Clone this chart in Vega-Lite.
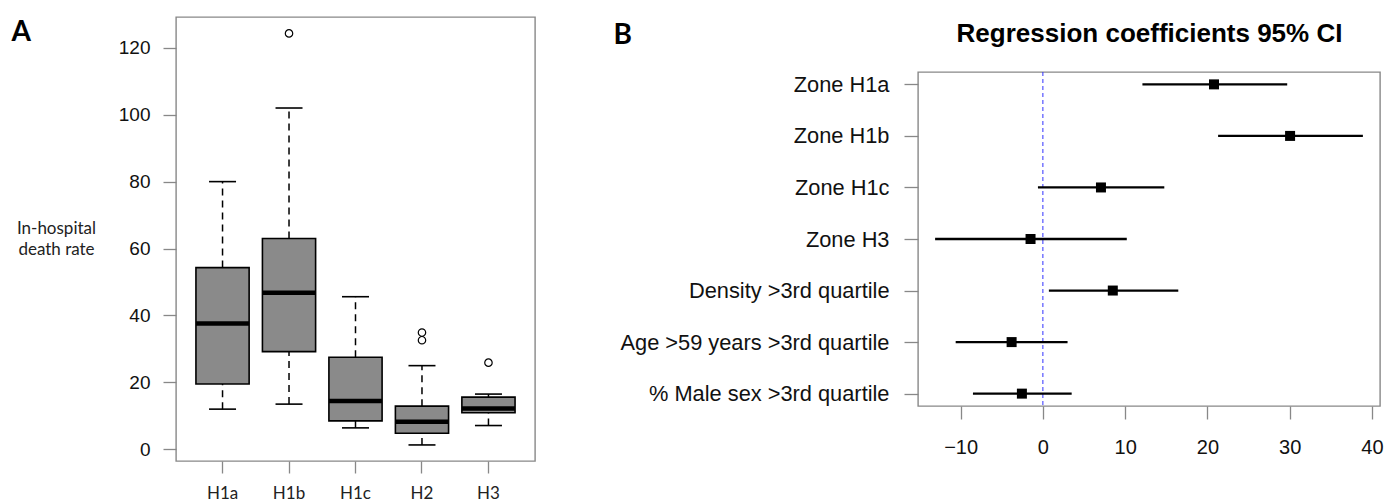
{
  "$schema": "https://vega.github.io/schema/vega-lite/v6.json",
  "padding": {"left": 10, "top": 16, "right": 0, "bottom": 0},
  "background": "white",
  "config": {
    "view": {"stroke": "#888888", "strokeWidth": 1.4},
    "axis": {"domain": false, "grid": false, "tickColor": "#888888", "tickWidth": 1.3, "labelColor": "#111111", "labelFont": "Liberation Sans"}
  },
  "datasets": {
    "box": [
      {"zone": "H1a", "lo": 12.0, "q1": 19.5, "med": 37.6, "q3": 54.3, "hi": 80.0},
      {"zone": "H1b", "lo": 13.5, "q1": 29.2, "med": 46.8, "q3": 63.0, "hi": 102.0},
      {"zone": "H1c", "lo": 6.4, "q1": 8.5, "med": 14.4, "q3": 27.5, "hi": 45.6},
      {"zone": "H2", "lo": 1.3, "q1": 4.8, "med": 8.25, "q3": 12.9, "hi": 25.0},
      {"zone": "H3", "lo": 7.1, "q1": 10.9, "med": 12.2, "q3": 15.6, "hi": 16.5}
    ],
    "outliers": [
      {"zone": "H1b", "value": 124.3},
      {"zone": "H2", "value": 34.9},
      {"zone": "H2", "value": 32.6},
      {"zone": "H3", "value": 25.9}
    ],
    "coef": [
      {"term": "Zone H1a", "lower": 12.1, "est": 20.8, "upper": 29.7},
      {"term": "Zone H1b", "lower": 21.3, "est": 30.05, "upper": 38.9},
      {"term": "Zone H1c", "lower": -0.6, "est": 7.06, "upper": 14.76},
      {"term": "Zone H3", "lower": -13.1, "est": -1.5, "upper": 10.2},
      {"term": "Density >3rd quartile", "lower": 0.73, "est": 8.5, "upper": 16.46},
      {"term": "Age >59 years >3rd quartile", "lower": -10.6, "est": -3.8, "upper": 3.0},
      {"term": "% Male sex >3rd quartile", "lower": -8.5, "est": -2.55, "upper": 3.5}
    ]
  },
  "bounds": "flush",
  "center": true,
  "spacing": 383,
  "hconcat": [
    {
      "width": 359,
      "height": 444,
      "data": {"name": "box"},
      "encoding": {
        "x": {
          "field": "zone", "type": "nominal",
          "sort": ["H1a", "H1b", "H1c", "H2", "H3"],
          "scale": {"paddingInner": 0.2, "paddingOuter": 0.3},
          "axis": {
            "title": "A", "titleX": -165, "titleY": -421, "titleAlign": "left", "titleBaseline": "alphabetic",
            "titleFont": "Lato", "titleFontSize": 28, "titleFontWeight": "bold", "titleColor": "black",
            "labelAngle": 0, "labelFont": "Lato", "labelFontSize": 17, "labelColor": "#222222",
            "tickSize": 12, "labelPadding": 12
          }
        }
      },
      "layer": [
        {
          "mark": {"type": "rule", "strokeDash": [7, 5], "strokeWidth": 1.5, "color": "black"},
          "encoding": {
            "y": {
              "field": "lo", "type": "quantitative",
              "scale": {"domain": [-3.5, 129.2], "nice": false, "zero": false},
              "axis": {
                "values": [0, 20, 40, 60, 80, 100, 120], "tickSize": 13, "labelPadding": 13, "labelFontSize": 19,
                "title": ["In-hospital", "death rate"], "titleAngle": 0, "titleX": -120, "titleY": 211,
                "titleAlign": "center", "titleBaseline": "middle", "titleFont": "Lato", "titleFontSize": 17,
                "titleFontWeight": "normal", "titleLineHeight": 21, "titleColor": "#222222"
              }
            },
            "y2": {"field": "q1"}
          }
        },
        {
          "mark": {"type": "rule", "strokeDash": [7, 5], "strokeWidth": 1.5, "color": "black"},
          "encoding": {
            "y": {"field": "q3", "type": "quantitative"},
            "y2": {"field": "hi"}
          }
        },
        {
          "mark": {"type": "tick", "size": 27, "thickness": 1.6, "color": "black", "opacity": 1},
          "encoding": {"y": {"field": "lo", "type": "quantitative"}}
        },
        {
          "mark": {"type": "tick", "size": 27, "thickness": 1.6, "color": "black", "opacity": 1},
          "encoding": {"y": {"field": "hi", "type": "quantitative"}}
        },
        {
          "mark": {"type": "bar", "fill": "#8a8a8a", "stroke": "black", "strokeWidth": 1.6, "opacity": 1},
          "encoding": {
            "y": {"field": "q1", "type": "quantitative"},
            "y2": {"field": "q3"}
          }
        },
        {
          "mark": {"type": "tick", "size": 53, "thickness": 4.5, "color": "black", "opacity": 1},
          "encoding": {"y": {"field": "med", "type": "quantitative"}}
        },
        {
          "data": {"name": "outliers"},
          "mark": {"type": "point", "shape": "circle", "filled": false, "stroke": "black", "strokeWidth": 1.2, "size": 55, "opacity": 1},
          "encoding": {"y": {"field": "value", "type": "quantitative"}}
        }
      ]
    },
    {
      "width": 462,
      "height": 334,
      "layer": [
        {
          "data": {"values": [{}]},
          "mark": {"type": "rule", "color": "#3030ff", "strokeDash": [4, 3], "strokeWidth": 1},
          "encoding": {"x": {"datum": 0, "type": "quantitative"}}
        },
        {
          "data": {"name": "coef"},
          "mark": {"type": "rule", "color": "black", "strokeWidth": 2.3},
          "encoding": {
            "x": {
              "field": "lower", "type": "quantitative",
              "scale": {"domain": [-15.18, 40.98], "nice": false, "zero": false},
              "axis": {
                "values": [-10, 0, 10, 20, 30, 40], "tickSize": 13, "labelPadding": 18, "labelFontSize": 20, "labelFlush": false,
                "title": "Regression coefficients 95% CI", "titleX": 231, "titleY": -365, "titleAlign": "center", "titleBaseline": "alphabetic",
                "titleFont": "Liberation Sans", "titleFontSize": 26, "titleFontWeight": "bold", "titleColor": "black"
              }
            },
            "x2": {"field": "upper"},
            "y": {
              "field": "term", "type": "nominal",
              "sort": ["Zone H1a", "Zone H1b", "Zone H1c", "Zone H3", "Density >3rd quartile", "Age >59 years >3rd quartile", "% Male sex >3rd quartile"],
              "scale": {"type": "point", "padding": 0.24},
              "axis": {
                "title": "B", "titleAngle": 0, "titleX": -305, "titleY": -29, "titleAlign": "left", "titleBaseline": "alphabetic",
                "titleFont": "Lato", "titleFontSize": 28, "titleFontWeight": "bold", "titleColor": "black",
                "labelFontSize": 21.8, "tickSize": 14, "labelPadding": 15, "labelLimit": 400
              }
            }
          }
        },
        {
          "data": {"name": "coef"},
          "mark": {"type": "point", "shape": "square", "filled": true, "color": "black", "size": 100, "opacity": 1},
          "encoding": {
            "x": {"field": "est", "type": "quantitative"},
            "y": {"field": "term", "type": "nominal", "sort": ["Zone H1a", "Zone H1b", "Zone H1c", "Zone H3", "Density >3rd quartile", "Age >59 years >3rd quartile", "% Male sex >3rd quartile"]}
          }
        }
      ]
    }
  ]
}
